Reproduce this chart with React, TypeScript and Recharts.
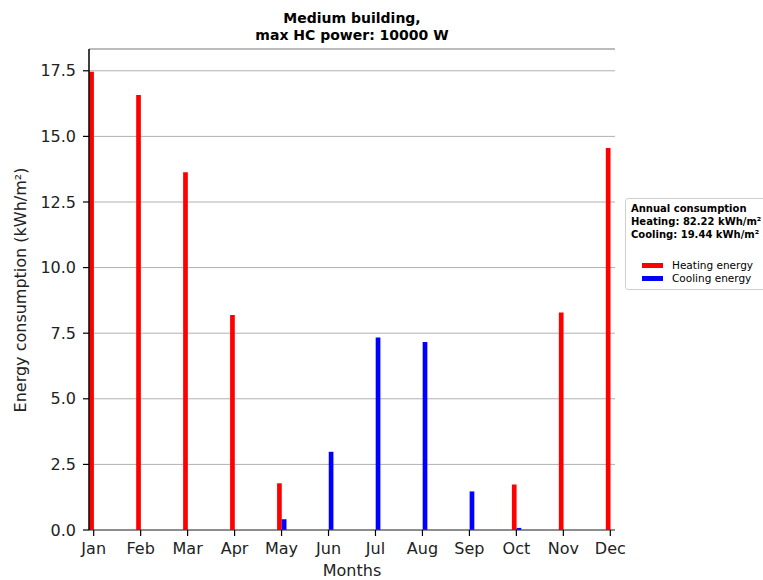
import { BarChart, Bar, XAxis, YAxis, CartesianGrid, ReferenceLine, Legend } from 'recharts';

const MONTHS = ['Jan', 'Feb', 'Mar', 'Apr', 'May', 'Jun', 'Jul', 'Aug', 'Sep', 'Oct', 'Nov', 'Dec'];
const HEATING = [17.46, 16.58, 13.63, 8.19, 1.78, 0, 0, 0, 0, 1.73, 8.29, 14.56];
const COOLING = [0, 0, 0, 0, 0.41, 2.98, 7.34, 7.16, 1.47, 0.08, 0, 0];
const Y_TICKS = [0, 2.5, 5, 7.5, 10, 12.5, 15, 17.5];
const X_TICKS = MONTHS.map((_, i) => i);
const SERIES_ORDER = ['Heating energy', 'Cooling energy'];
const Y_MAX = 18.33;

const data = MONTHS.map((month, i) => ({
  idx: i,
  month,
  heating: HEATING[i],
  cooling: COOLING[i],
}));

const sum = (arr: number[]) => arr.reduce((a, b) => a + b, 0);

const FONT = '"DejaVu Sans", sans-serif';

function LegendBox({ payload }: any) {
  const items = [...(payload || [])].sort(
    (a: any, b: any) => SERIES_ORDER.indexOf(a.value) - SERIES_ORDER.indexOf(b.value)
  );
  return (
    <div
      style={{
        width: 160,
        height: 90,
        border: '1px solid #d0d0d0',
        borderRadius: 3,
        background: '#fff',
        fontFamily: FONT,
        fontSize: 10,
        color: '#000',
        boxSizing: 'content-box',
      }}
    >
      <div style={{ paddingTop: 3, paddingLeft: 5, fontWeight: 'bold', lineHeight: '13px' }}>
        <div>Annual consumption</div>
        <div>Heating: {sum(HEATING).toFixed(2)} kWh/m²</div>
        <div>Cooling: {sum(COOLING).toFixed(2)} kWh/m²</div>
      </div>
      <div style={{ marginTop: 18 }}>
        {items.map((p: any) => (
          <div key={p.value} style={{ display: 'flex', alignItems: 'center', height: 13 }}>
            <span style={{ display: 'inline-block', marginLeft: 16, width: 21, height: 5, background: p.color, marginRight: 9 }} />
            <span style={{ lineHeight: '13px', fontSize: 10.5 }}>{p.value}</span>
          </div>
        ))}
      </div>
    </div>
  );
}

export default function App() {
  return (
    <div style={{ position: 'absolute', left: 0, top: 0, width: 763, height: 580, overflow: 'hidden', background: '#fff', fontFamily: FONT }}>
      <div
        style={{
          position: 'absolute',
          left: 89,
          top: 10,
          width: 526,
          textAlign: 'center',
          fontWeight: 'bold',
          fontSize: 14,
          lineHeight: '17px',
          color: '#000',
        }}
      >
        Medium building,
        <br />
        max HC power: 10000 W
      </div>
      <BarChart
        width={763}
        height={580}
        data={data}
        margin={{ top: 49, right: 148, bottom: 0, left: 0 }}
        barGap={0}
        barSize={4.7}
      >
        <CartesianGrid vertical={false} stroke="#b0b0b0" strokeWidth={1} />
        <XAxis
          dataKey="idx"
          type="number"
          domain={[-0.1, 11.1]}
          allowDataOverflow
          ticks={X_TICKS}
          interval={0}
          tickFormatter={(v: number) => MONTHS[v]}
          height={50}
          tickSize={6}
          tickMargin={7}
          tick={{ fontSize: 16, fill: '#222', fontFamily: FONT }}
          axisLine={{ stroke: '#444', strokeWidth: 1.2 }}
          tickLine={{ stroke: '#000', strokeWidth: 1.2 }}
        />
        <YAxis
          domain={[0, Y_MAX]}
          allowDataOverflow
          ticks={Y_TICKS}
          interval={0}
          tickFormatter={(v: number) => v.toFixed(1)}
          width={89}
          tickSize={6}
          tickMargin={7}
          tick={{ fontSize: 16, fill: '#222', fontFamily: FONT }}
          axisLine={{ stroke: '#000', strokeWidth: 1.5 }}
          tickLine={{ stroke: '#000', strokeWidth: 1.2 }}
        />
        <YAxis
          yAxisId="right"
          orientation="right"
          domain={[0, Y_MAX]}
          width={0}
          tick={false}
          tickLine={false}
          axisLine={{ stroke: '#000', strokeWidth: 1.5 }}
        />
        <ReferenceLine y={Y_MAX} stroke="#a0a0a0" strokeWidth={1.2} />
        <Legend
          layout="horizontal"
          verticalAlign="middle"
          align="center"
          wrapperStyle={{ left: 625, top: 198, width: 162 }}
          content={<LegendBox />}
        />
        <Bar dataKey="heating" name="Heating energy" fill="#ff0000" isAnimationActive={false} />
        <Bar dataKey="cooling" name="Cooling energy" fill="#0000ff" isAnimationActive={false} />
      </BarChart>
      <div
        style={{
          position: 'absolute',
          left: 89,
          top: 562,
          width: 526,
          textAlign: 'center',
          fontSize: 16,
          lineHeight: '18px',
          color: '#222',
        }}
      >
        Months
      </div>
      <div
        style={{
          position: 'absolute',
          left: 21,
          top: 290,
          transform: 'translate(-50%, -50%) rotate(-90deg)',
          whiteSpace: 'nowrap',
          fontSize: 16,
          lineHeight: '18px',
          color: '#222',
        }}
      >
        Energy consumption (kWh/m²)
      </div>
    </div>
  );
}
